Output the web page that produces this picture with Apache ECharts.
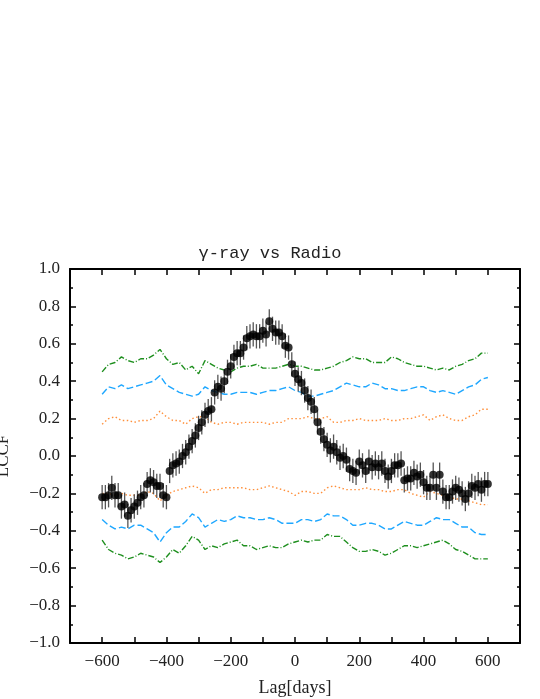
<!DOCTYPE html>
<html>
<head>
<meta charset="utf-8">
<script src="https://cdn.jsdelivr.net/npm/echarts@6/dist/echarts.min.js"></script>
<style>html,body{margin:0;padding:0;background:#fff}#main{width:540px;height:699px}</style>
</head>
<body>
<div id="main"></div>
<script>
// LCCF points, lag -600..600 step 10
var lccf = [-0.22,-0.22,-0.21,-0.17,-0.21,-0.21,-0.27,-0.26,-0.32,-0.29,-0.27,-0.25,-0.22,-0.21,-0.15,-0.13,-0.14,-0.16,-0.16,-0.21,
  -0.22,-0.08,-0.05,-0.04,-0.03,0.0,0.02,0.05,0.08,0.11,0.15,0.18,0.22,0.24,0.25,0.34,0.37,0.36,0.40,0.45,
  0.48,0.53,0.55,0.55,0.58,0.63,0.64,0.65,0.64,0.64,0.67,0.65,0.72,0.68,0.66,0.66,0.64,0.59,0.58,0.49,
  0.44,0.41,0.39,0.35,0.31,0.29,0.25,0.18,0.13,0.09,0.06,0.03,0.05,0.02,-0.01,0.0,-0.02,-0.07,-0.08,-0.09,
  -0.03,-0.05,-0.08,-0.03,-0.06,-0.04,-0.06,-0.04,-0.08,-0.11,-0.08,-0.05,-0.05,-0.04,-0.13,-0.12,-0.12,-0.09,-0.11,-0.10,
  -0.14,-0.17,-0.17,-0.10,-0.17,-0.10,-0.19,-0.22,-0.22,-0.19,-0.17,-0.18,-0.20,-0.23,-0.20,-0.16,-0.17,-0.15,-0.18,-0.15,-0.15];
var lccfErr = 0.065;

// significance levels, lag -600..600 step 20
var green1 = [0.45,0.49,0.50,0.53,0.51,0.50,0.52,0.52,0.54,0.57,0.52,0.49,0.50,0.46,0.48,0.44,0.51,0.49,0.47,0.46,
  0.45,0.47,0.48,0.48,0.49,0.47,0.47,0.47,0.48,0.49,0.48,0.48,0.47,0.46,0.46,0.47,0.48,0.50,0.51,0.53,
  0.52,0.52,0.50,0.50,0.50,0.53,0.52,0.50,0.49,0.48,0.48,0.47,0.46,0.47,0.46,0.48,0.49,0.51,0.52,0.55,0.55];
var blue1 = [0.33,0.37,0.36,0.38,0.36,0.37,0.38,0.39,0.40,0.43,0.38,0.36,0.34,0.33,0.32,0.33,0.37,0.35,0.34,0.33,
  0.33,0.34,0.34,0.34,0.33,0.34,0.35,0.35,0.36,0.37,0.35,0.34,0.32,0.32,0.33,0.34,0.35,0.37,0.39,0.38,
  0.37,0.37,0.39,0.38,0.36,0.36,0.35,0.35,0.36,0.37,0.37,0.35,0.34,0.35,0.34,0.33,0.35,0.37,0.38,0.41,0.42];
var orange1 = [0.17,0.20,0.21,0.19,0.19,0.18,0.19,0.19,0.20,0.24,0.21,0.19,0.19,0.17,0.20,0.21,0.21,0.18,0.17,0.18,
  0.18,0.17,0.18,0.18,0.18,0.18,0.17,0.18,0.18,0.20,0.20,0.20,0.21,0.20,0.20,0.21,0.18,0.18,0.19,0.19,
  0.20,0.19,0.19,0.19,0.20,0.19,0.19,0.20,0.20,0.21,0.22,0.19,0.21,0.22,0.20,0.19,0.19,0.21,0.22,0.25,0.25];
var orange2 = [-0.20,-0.20,-0.21,-0.20,-0.21,-0.21,-0.21,-0.19,-0.20,-0.24,-0.21,-0.19,-0.18,-0.17,-0.16,-0.17,-0.20,-0.18,-0.18,-0.17,
  -0.17,-0.17,-0.17,-0.18,-0.18,-0.17,-0.16,-0.17,-0.18,-0.19,-0.21,-0.19,-0.19,-0.20,-0.20,-0.17,-0.16,-0.17,-0.18,-0.18,
  -0.18,-0.17,-0.18,-0.18,-0.19,-0.19,-0.18,-0.18,-0.20,-0.21,-0.22,-0.19,-0.20,-0.21,-0.22,-0.23,-0.23,-0.24,-0.25,-0.26,-0.26];
var blue2 = [-0.34,-0.37,-0.39,-0.38,-0.39,-0.37,-0.37,-0.39,-0.41,-0.46,-0.41,-0.38,-0.38,-0.35,-0.31,-0.33,-0.38,-0.36,-0.34,-0.35,
  -0.34,-0.32,-0.33,-0.33,-0.34,-0.34,-0.33,-0.34,-0.36,-0.36,-0.36,-0.34,-0.34,-0.35,-0.34,-0.31,-0.32,-0.32,-0.34,-0.37,
  -0.37,-0.36,-0.36,-0.37,-0.39,-0.39,-0.37,-0.35,-0.36,-0.37,-0.37,-0.35,-0.33,-0.34,-0.34,-0.36,-0.38,-0.38,-0.41,-0.42,-0.42];
var green2 = [-0.45,-0.50,-0.52,-0.53,-0.55,-0.54,-0.52,-0.53,-0.54,-0.57,-0.54,-0.50,-0.52,-0.48,-0.43,-0.45,-0.50,-0.48,-0.49,-0.47,
  -0.46,-0.45,-0.48,-0.48,-0.50,-0.49,-0.48,-0.49,-0.49,-0.47,-0.46,-0.45,-0.46,-0.45,-0.45,-0.42,-0.43,-0.43,-0.46,-0.49,
  -0.51,-0.51,-0.50,-0.51,-0.53,-0.52,-0.50,-0.48,-0.48,-0.49,-0.48,-0.47,-0.46,-0.45,-0.47,-0.50,-0.51,-0.53,-0.55,-0.55,-0.55];

function withLag(arr, step) {
  return arr.map(function (v, i) { return [-600 + i * step, v]; });
}
function fmt(v, d) {
  var s = Math.abs(v).toFixed(d);
  return (v < -1e-9 ? '\u2212' : '') + s;
}

var font = 'Liberation Serif';
var myChart = echarts.init(document.getElementById('main'));
var pts = withLag(lccf, 10);

function sigLine(name, arr, color, type) {
  return {
    name: name, type: 'line', data: withLag(arr, 20), symbol: 'none', z: 2,
    lineStyle: { color: color, width: 1.4, type: type }
  };
}

var axisBase = {
  axisLine: { show: true, onZero: false, lineStyle: { color: '#000', width: 2 } },
  axisTick: { show: true, inside: true, length: 6, lineStyle: { color: '#000', width: 1.5 } },
  splitLine: { show: false }
};
var xTick = { minorTick: { show: false } };
var yTick = { minorTick: { show: true, splitNumber: 2, length: 3, lineStyle: { color: '#000', width: 1.5 } } };

myChart.setOption({
  animation: false,
  title: {
    text: '\u03b3-ray vs Radio', left: 'center', top: 240,
    textStyle: { fontFamily: 'Liberation Mono', fontSize: 17, fontWeight: 'normal', color: '#222' }
  },
  grid: { left: 70, right: 20, top: 269, bottom: 56, containLabel: false, outerBoundsMode: 'none' },
  xAxis: [
    Object.assign({}, axisBase, xTick, {
      type: 'value', min: -700, max: 700, interval: 100,
      name: 'Lag[days]', nameLocation: 'middle', nameGap: 36,
      nameTextStyle: { fontFamily: font, fontSize: 18, color: '#222' },
      axisLabel: { fontFamily: font, fontSize: 17, color: '#222', margin: 10, showMinLabel: true, showMaxLabel: true,
        formatter: function (v) { return v % 200 === 0 && Math.abs(v) <= 600 ? fmt(v, 0) : ''; } }
    }),
    Object.assign({}, axisBase, xTick, {
      type: 'value', min: -700, max: 700, interval: 100, position: 'top', axisLabel: { show: false }
    })
  ],
  yAxis: [
    Object.assign({}, axisBase, yTick, {
      type: 'value', min: -1, max: 1, interval: 0.2,
      name: 'LCCF', nameLocation: 'middle', nameGap: 58,
      nameTextStyle: { fontFamily: font, fontSize: 17, color: '#222' },
      axisLabel: { fontFamily: font, fontSize: 17, color: '#222', margin: 10,
        formatter: function (v) { return fmt(v, 1); } }
    }),
    Object.assign({}, axisBase, yTick, {
      type: 'value', min: -1, max: 1, interval: 0.2, position: 'right', axisLabel: { show: false }
    })
  ],
  series: [
    sigLine('g1', green1, '#1e8f1e', [6, 2, 1, 2]),
    sigLine('b1', blue1, '#1ea7ff', [7, 3]),
    sigLine('o1', orange1, '#ff8f3a', [1.5, 2.5]),
    sigLine('o2', orange2, '#ff8f3a', [1.5, 2.5]),
    sigLine('b2', blue2, '#1ea7ff', [7, 3]),
    sigLine('g2', green2, '#1e8f1e', [6, 2, 1, 2]),
    {
      type: 'custom', z: 3, data: pts,
      renderItem: function (params, api) {
        var x = api.value(0), y = api.value(1);
        var a = api.coord([x, y + lccfErr]), b = api.coord([x, y - lccfErr]);
        return { type: 'line', shape: { x1: a[0], y1: a[1], x2: b[0], y2: b[1] },
          style: { stroke: '#555', lineWidth: 1.3 } };
      }
    },
    {
      type: 'scatter', z: 4, data: pts, symbol: 'circle', symbolSize: 8,
      itemStyle: { color: '#000' }
    }
  ]
});
</script>
</body>
</html>
